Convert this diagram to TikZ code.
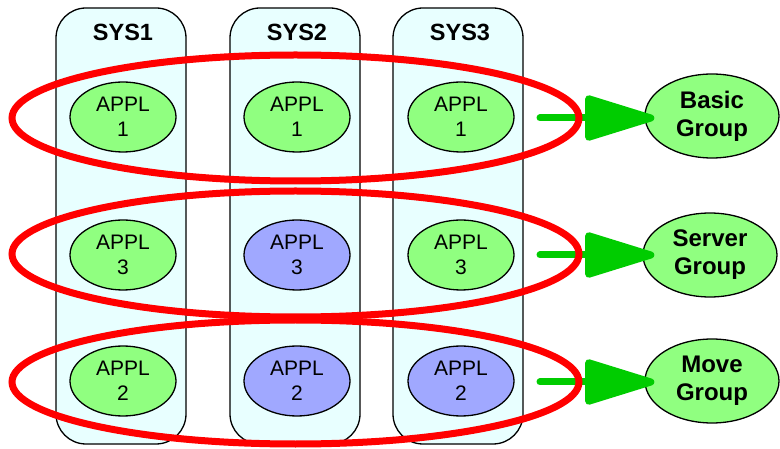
\documentclass[tikz,border=0pt]{standalone}
\usepackage{fontspec}
\setmainfont{Liberation Sans}
\usetikzlibrary{shapes.geometric,arrows.meta}
\definecolor{applgreen}{RGB}{144,255,128}
\definecolor{applblue}{RGB}{160,168,255}
\definecolor{colfill}{RGB}{232,255,255}
\definecolor{flowgreen}{RGB}{0,204,0}
\definecolor{ringred}{RGB}{255,0,0}

\begin{document}
\begin{tikzpicture}[x=1pt,y=-1pt,
  syscol/.style={draw=black, line width=1.3pt, fill=colfill, rounded corners=30pt,
                 minimum width=130pt, minimum height=436pt, inner sep=0pt},
  syshead/.style={font=\fontsize{23.5}{28}\selectfont\bfseries, inner sep=0pt},
  appl/.style={ellipse, draw=black, line width=1.3pt, minimum width=106pt,
               minimum height=70pt, inner sep=0pt, align=center,
               font=\fontsize{21}{25}\selectfont},
  applg/.style={appl, fill=applgreen},
  applb/.style={appl, fill=applblue},
  ring/.style={ellipse, draw=ringred, line width=7pt, minimum width=567pt,
               minimum height=126pt, inner sep=0pt},
  group/.style={ellipse, draw=black, line width=1.3pt, fill=applgreen,
                minimum width=134pt, minimum height=84pt, inner sep=0pt,
                align=center, font=\fontsize{24}{28}\selectfont\bfseries},
  flow/.style={draw=flowgreen, line width=7pt, line cap=round,
               -{Triangle[length=78pt,width=46pt,round]}},
]
\useasboundingbox (0,0) rectangle (780,449);

% system columns
\node[syscol] (sys1) at (121,226) {};
\node[syscol] (sys2) at (295,226) {};
\node[syscol] (sys3) at (458,226) {};
\node[syshead] (h1) at (123,32) {SYS1};
\node[syshead] (h2) at (297,32) {SYS2};
\node[syshead] (h3) at (460,32) {SYS3};

% applications
\node[applg] (a11) at (123,117) {APPL\\1};
\node[applg] (a12) at (297,117) {APPL\\1};
\node[applg] (a13) at (461,117) {APPL\\1};
\node[applg] (a21) at (123,255) {APPL\\3};
\node[applb] (a22) at (297,255) {APPL\\3};
\node[applg] (a23) at (461,255) {APPL\\3};
\node[applg] (a31) at (123,381) {APPL\\2};
\node[applb] (a32) at (297,381) {APPL\\2};
\node[applb] (a33) at (461,381) {APPL\\2};

% groups
\node[group] (g1) at (712,116) {Basic\\Group};
\node[group] (g2) at (710,255) {Server\\Group};
\node[group] (g3) at (712,381) {Move\\Group};

% arrows to the groups
\coordinate (s1) at (540,118);
\coordinate (s2) at (540,255);
\coordinate (s3) at (540,382);
\draw[flow] (s1) -- ([xshift=10pt]g1.west |- s1);
\draw[flow] (s2) -- ([xshift=12pt]g2.west |- s2);
\draw[flow] (s3) -- ([xshift=10pt]g3.west |- s3);

% group rings
\node[ring] (r1) at (295.5,118) {};
\node[ring] (r2) at (295.5,254) {};
\node[ring, minimum height=124pt] (r3) at (295.5,382) {};
\end{tikzpicture}
\end{document}
